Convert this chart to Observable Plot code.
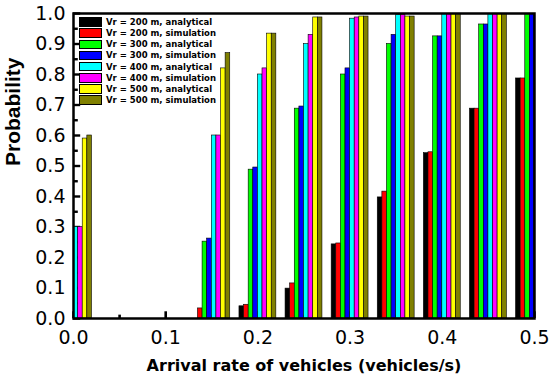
<!DOCTYPE html>
<html><head><meta charset="utf-8">
<script src="https://cdn.jsdelivr.net/npm/d3@7"></script>
<script src="https://cdn.jsdelivr.net/npm/@observablehq/plot@0.6"></script>
<style>
body{margin:0;background:#fff;}
#wrap{position:relative;width:550px;height:380px;}
#legend{position:absolute;left:79px;top:16.5px;font-family:"DejaVu Sans";font-weight:bold;font-size:8.5px;color:#000;}
.row{display:flex;align-items:center;height:11.15px;white-space:nowrap;}
.sw{width:21px;height:7.5px;border:1px solid #000;margin-right:4px;box-sizing:content-box;}
</style></head><body><div id="wrap"><div id="legend"></div></div>
<script>
const rates = [0, 0.05, 0.1, 0.15, 0.2, 0.25, 0.3, 0.35, 0.4, 0.45, 0.5];
const seriesNames = [
  "Vr = 200 m, analytical", "Vr = 200 m, simulation",
  "Vr = 300 m, analytical", "Vr = 300 m, simulation",
  "Vr = 400 m, analytical", "Vr = 400 m, simulation",
  "Vr = 500 m, analytical", "Vr = 500 m, simulation"
];
const seriesColors = ["#000000", "#ff0000", "#00ff00", "#0000ff", "#00ffff", "#ff00ff", "#ffff00", "#808000"];
const vr200Analytical = [0, 0, 0, 0, 0.040, 0.098, 0.243, 0.397, 0.542, 0.688, 0.787];
const vr200Simulation = [0, 0, 0, 0.033, 0.045, 0.115, 0.246, 0.416, 0.545, 0.688, 0.787];
const vr300Analytical = [0, 0, 0, 0.252, 0.488, 0.688, 0.800, 0.900, 0.925, 0.964, 1.0];
const vr300Simulation = [0, 0, 0, 0.262, 0.495, 0.695, 0.820, 0.930, 0.925, 0.964, 1.0];
const vr400Analytical = [0.300, 0, 0, 0.600, 0.800, 0.900, 0.983, 0.995, 1.0, 1.0, 1.0];
const vr400Simulation = [0.300, 0, 0, 0.600, 0.820, 0.930, 0.987, 0.995, 1.0, 1.0, 1.0];
const vr500Analytical = [0.590, 0, 0, 0.820, 0.934, 0.987, 0.990, 0.990, 1.0, 1.0, 1.0];
const vr500Simulation = [0.600, 0, 0, 0.870, 0.934, 0.987, 0.990, 0.990, 1.0, 1.0, 1.0];
const xTickValues = [0, 0.1, 0.2, 0.3, 0.4, 0.5];
const xMinorTicks = [0.05, 0.15, 0.25, 0.35, 0.45];
const yTickValues = [0, 0.1, 0.2, 0.3, 0.4, 0.5, 0.6, 0.7, 0.8, 0.9, 1.0];
const yMinorTicks = [0.05, 0.15, 0.25, 0.35, 0.45, 0.55, 0.65, 0.75, 0.85, 0.95];
const xTitle = "Arrival rate of vehicles (vehicles/s)";
const yTitle = "Probability";

const allSeries = [vr200Analytical, vr200Simulation, vr300Analytical, vr300Simulation,
                   vr400Analytical, vr400Simulation, vr500Analytical, vr500Simulation];
const barW = 0.005;
const table = [];
allSeries.forEach((vals, k) => {
  vals.forEach((v, i) => {
    if (v > 0) table.push({rate: rates[i], k, series: seriesNames[k], value: v});
  });
});

// inward tick lengths expressed in scale units
const yTickLenMajor = 0.0078, yTickLenMinor = 0.0052;
const xTickLenMajor = 0.022, xTickLenMinor = 0.011;

const plot = Plot.plot({
  width: 550, height: 380,
  marginLeft: 73, marginRight: 16, marginTop: 13, marginBottom: 62,
  style: {fontFamily: "DejaVu Sans", background: "white", color: "black"},
  x: {domain: [0, 0.5], label: null},
  y: {domain: [0, 1], label: null},
  color: {domain: seriesNames, range: seriesColors},
  marks: [
    Plot.ruleX(xTickValues, {x: d => d, y1: 0, y2: xTickLenMajor, stroke: "black", strokeWidth: 2.6}),
    Plot.ruleX(xMinorTicks, {x: d => d, y1: 0, y2: xTickLenMinor, stroke: "black", strokeWidth: 2.6}),
    Plot.ruleY(yTickValues, {y: d => d, x1: 0, x2: yTickLenMajor, stroke: "black", strokeWidth: 2.4}),
    Plot.ruleY(yMinorTicks, {y: d => d, x1: 0, x2: yTickLenMinor, stroke: "black", strokeWidth: 2.4}),
    Plot.rectY(table, {
      x1: d => d.rate + (d.k - 4) * barW,
      x2: d => d.rate + (d.k - 3) * barW,
      y: "value", fill: "series", stroke: "black", strokeWidth: 0.6, clip: true
    }),
    Plot.axisX({ticks: xTickValues, tickSize: 0, tickPadding: 12, tickFormat: d3.format(".1f"), fontSize: 19, label: null}),
    Plot.axisY({ticks: yTickValues, tickSize: 0, tickPadding: 8, tickFormat: d3.format(".1f"), fontSize: 19, label: null}),
    Plot.frame({stroke: "black", strokeWidth: 2.5}),
    Plot.text([xTitle], {text: d => d, frameAnchor: "bottom", dy: 52, fontWeight: "bold", fontSize: 16}),
    Plot.text([yTitle], {text: d => d, frameAnchor: "left", dx: -60, rotate: -90, fontFamily: "Liberation Sans", fontWeight: "bold", fontSize: 21})
  ]
});
document.getElementById("wrap").prepend(plot);

const legend = document.getElementById("legend");
seriesNames.forEach((name, k) => {
  const row = document.createElement("div");
  row.className = "row";
  const sw = document.createElement("span");
  sw.className = "sw";
  sw.style.background = seriesColors[k];
  const label = document.createElement("span");
  label.textContent = name;
  row.appendChild(sw);
  row.appendChild(label);
  legend.appendChild(row);
});
</script></body></html>
